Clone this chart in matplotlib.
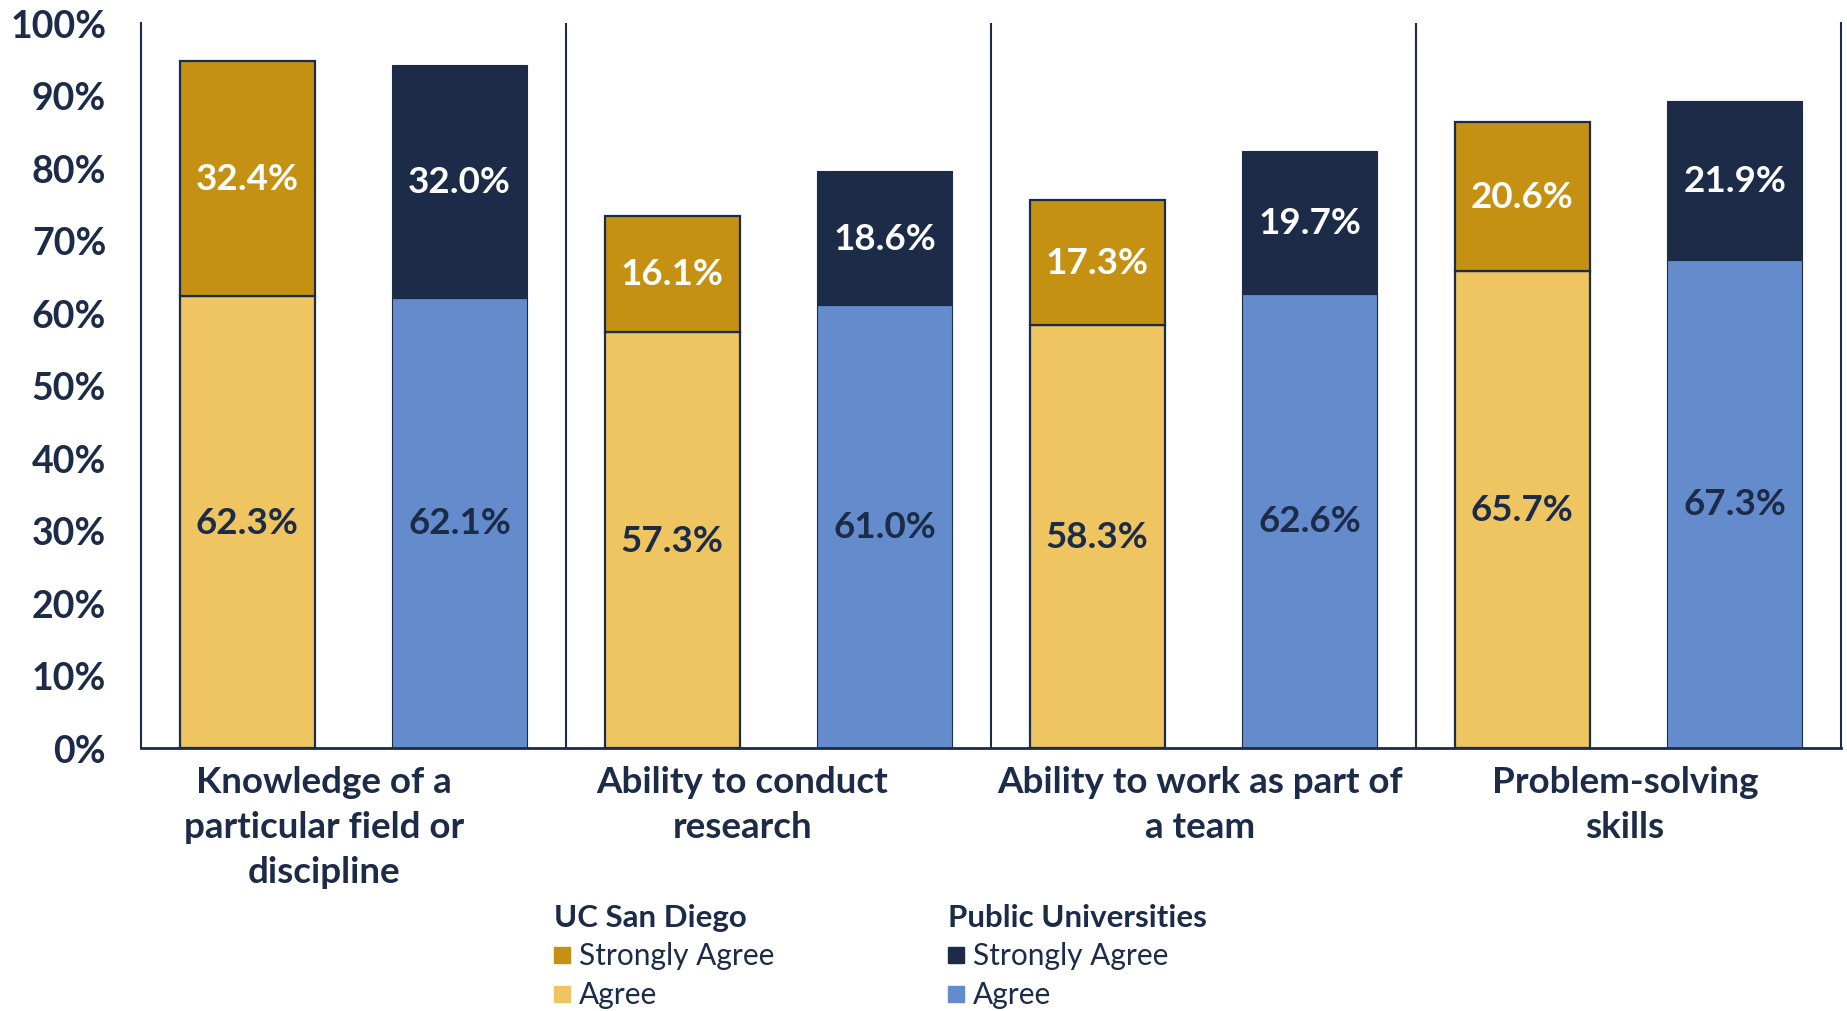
import numpy as np
import matplotlib.pyplot as plt
from matplotlib.patches import Rectangle

plt.rcParams['font.family'] = ['Lato', 'DejaVu Sans']

categories = ['Knowledge of a\nparticular field or\ndiscipline',
              'Ability to conduct\nresearch',
              'Ability to work as part of\na team',
              'Problem-solving\nskills']
ucsd_agree = [62.3, 57.3, 58.3, 65.7]
ucsd_strong = [32.4, 16.1, 17.3, 20.6]
pub_agree = [62.1, 61.0, 62.6, 67.3]
pub_strong = [32.0, 18.6, 19.7, 21.9]

navy = '#1B2B48'
gold_dark = '#C49112'
gold_light = '#EEC561'
blue = '#648BCB'

fig = plt.figure(figsize=(18.47, 10.12), dpi=100)
ax = fig.add_axes([0.0763, 0.2599, 0.9204, 0.7168])

x = np.arange(len(categories))
w = 0.318
off = 0.25
label_shift = [-0.07, -0.085, -0.007, -0.008]

ax.bar(x - off, ucsd_agree, w, color=gold_light, edgecolor=navy, linewidth=1.6)
ax.bar(x - off, ucsd_strong, w, bottom=ucsd_agree, color=gold_dark, edgecolor=navy, linewidth=1.6)
ax.bar(x + off, pub_agree, w, color=blue, edgecolor=navy, linewidth=0.8)
ax.bar(x + off, pub_strong, w, bottom=pub_agree, color=navy, edgecolor=navy, linewidth=0.8)

fs = 26.5
for i in range(len(categories)):
    ax.text(x[i] - off, ucsd_agree[i] / 2, f'{ucsd_agree[i]:.1f}%', ha='center', va='center',
            fontsize=fs, fontweight='bold', color=navy)
    ax.text(x[i] - off, ucsd_agree[i] + ucsd_strong[i] / 2, f'{ucsd_strong[i]:.1f}%', ha='center',
            va='center', fontsize=fs, fontweight='bold', color='white')
    ax.text(x[i] + off, pub_agree[i] / 2, f'{pub_agree[i]:.1f}%', ha='center', va='center',
            fontsize=fs, fontweight='bold', color=navy)
    ax.text(x[i] + off, pub_agree[i] + pub_strong[i] / 2, f'{pub_strong[i]:.1f}%', ha='center',
            va='center', fontsize=fs, fontweight='bold', color='white')

for b in [0.5, 1.5, 2.5]:
    ax.axvline(b, color=navy, linewidth=1.5)

ax.set_xlim(-0.5, 3.5)
ax.set_ylim(0, 100)
ax.set_yticks(np.arange(0, 101, 10))
ax.set_yticklabels([f'{v}%' for v in range(0, 101, 10)])
ax.set_xticks(x + np.array(label_shift))
ax.set_xticklabels(categories, linespacing=1.45)
ax.tick_params(axis='y', length=0, pad=25, labelsize=27, labelcolor=navy)
ax.tick_params(axis='x', length=0, pad=12, labelsize=26.5, labelcolor=navy)
for lab in ax.get_xticklabels() + ax.get_yticklabels():
    lab.set_fontweight('bold')
ax.spines['top'].set_visible(False)
for s in ['left', 'right', 'bottom']:
    ax.spines[s].set_color(navy)
    ax.spines[s].set_linewidth(1.5)
ax.spines['bottom'].set_linewidth(2)

# legend
groups = [('UC San Diego', 0.300, gold_dark, gold_light),
          ('Public Universities', 0.513, navy, blue)]
for title, gx, c_strong, c_agree in groups:
    fig.text(gx, 1 - 918 / 1012, title, fontsize=22.5, fontweight='bold', color=navy,
             ha='left', va='center')
    for label, c, py in [('Strongly Agree', c_strong, 956), ('Agree', c_agree, 995)]:
        fig.add_artist(Rectangle((gx, 1 - (py + 8) / 1012), 16 / 1847, 16 / 1012,
                                 transform=fig.transFigure, color=c))
        fig.text(gx + 25 / 1847, 1 - py / 1012, label, fontsize=21.5, color=navy,
                 ha='left', va='center')

fig.savefig('out.png', dpi=100)
